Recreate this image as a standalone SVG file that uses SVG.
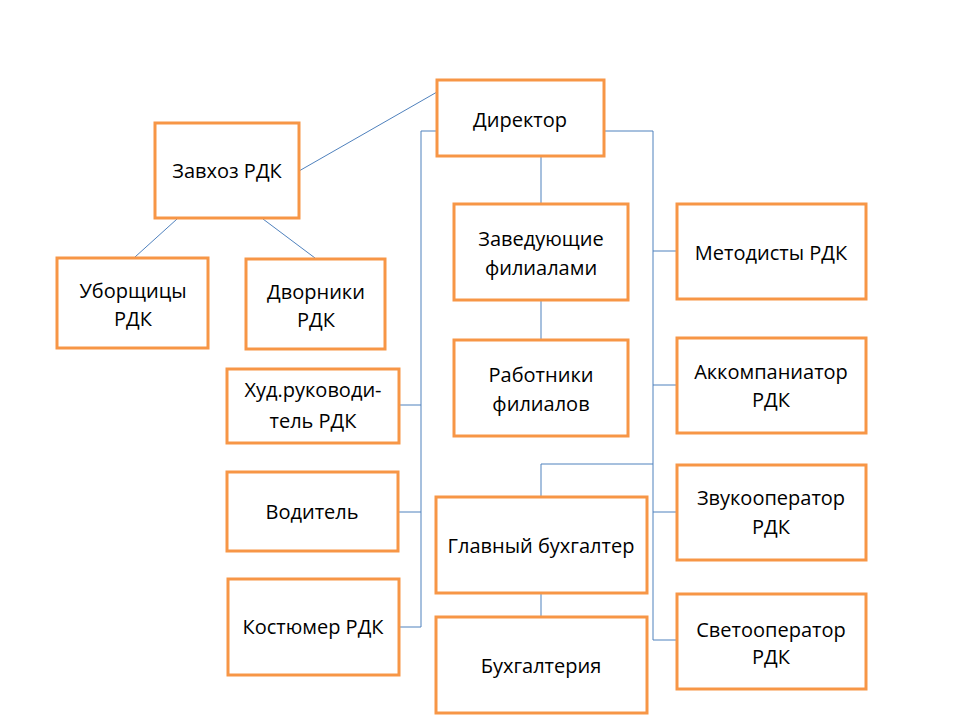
<svg xmlns="http://www.w3.org/2000/svg" width="960" height="720" viewBox="0 0 960 720">
<style>
.box{fill:#fff;stroke:#F79646;stroke-width:3}
.t{font-family:"Open Sans","Liberation Sans",sans-serif;font-size:20px;fill:#000;text-anchor:middle}
.c{fill:none;stroke:#4F81BD;stroke-width:1}
</style>
<rect width="960" height="720" fill="#fff"/>
<g id="connectors">
<line class="c" x1="299" y1="171" x2="437" y2="92"/>
<line class="c" x1="177" y1="219" x2="135" y2="257"/>
<line class="c" x1="263" y1="219" x2="315" y2="258"/>
<line class="c" x1="541" y1="156" x2="541" y2="204"/>
<line class="c" x1="541" y1="300" x2="541" y2="340"/>
<polyline class="c" points="437,131 421,131 421,627 399,627"/>
<line class="c" x1="399" y1="405" x2="421" y2="405"/>
<line class="c" x1="398" y1="512" x2="421" y2="512"/>
<polyline class="c" points="604,131 653,131 653,640 677,640"/>
<line class="c" x1="653" y1="251" x2="677" y2="251"/>
<line class="c" x1="653" y1="385" x2="677" y2="385"/>
<line class="c" x1="653" y1="512" x2="677" y2="512"/>
<polyline class="c" points="653,464 541,464 541,497"/>
<line class="c" x1="541" y1="593" x2="541" y2="617"/>
</g>
<g id="director"><rect class="box" x="437" y="80" width="167" height="76"/><text class="t" x="520" y="127">Директор</text></g>
<g id="zavhoz"><rect class="box" x="155" y="123" width="144" height="95"/><text class="t" x="227" y="178">Завхоз РДК</text></g>
<g id="uborshchitsy"><rect class="box" x="57" y="258" width="151" height="90"/><text class="t" x="133" y="298">Уборщицы</text><text class="t" x="133" y="326">РДК</text></g>
<g id="dvorniki"><rect class="box" x="246" y="259" width="139" height="90"/><text class="t" x="316" y="299">Дворники</text><text class="t" x="316" y="327">РДК</text></g>
<g id="zaveduyushchie"><rect class="box" x="454" y="204" width="174" height="96"/><text class="t" x="541" y="246">Заведующие</text><text class="t" x="541" y="275">филиалами</text></g>
<g id="rabotniki"><rect class="box" x="454" y="340" width="174" height="96"/><text class="t" x="541" y="382">Работники</text><text class="t" x="541" y="411">филиалов</text></g>
<g id="hud"><rect class="box" x="227" y="369" width="172" height="74"/><text class="t" x="313" y="397">Худ.руководи-</text><text class="t" x="313" y="428">тель РДК</text></g>
<g id="voditel"><rect class="box" x="227" y="472" width="171" height="79"/><text class="t" x="312" y="519">Водитель</text></g>
<g id="kostyumer"><rect class="box" x="228" y="579" width="171" height="96"/><text class="t" x="313" y="634">Костюмер РДК</text></g>
<g id="glavny"><rect class="box" x="436" y="497" width="211" height="96"/><text class="t" x="541" y="553">Главный бухгалтер</text></g>
<g id="bukhgalteriya"><rect class="box" x="436" y="617" width="211" height="96"/><text class="t" x="541" y="673">Бухгалтерия</text></g>
<g id="metodisty"><rect class="box" x="677" y="204" width="189" height="95"/><text class="t" x="771" y="260">Методисты РДК</text></g>
<g id="akkompaniator"><rect class="box" x="677" y="338" width="189" height="95"/><text class="t" x="771" y="379">Аккомпаниатор</text><text class="t" x="771" y="407">РДК</text></g>
<g id="zvukooperator"><rect class="box" x="677" y="465" width="189" height="95"/><text class="t" x="771" y="505">Звукооператор</text><text class="t" x="771" y="534">РДК</text></g>
<g id="svetooperator"><rect class="box" x="677" y="594" width="189" height="95"/><text class="t" x="771" y="637">Светооператор</text><text class="t" x="771" y="664">РДК</text></g>
</svg>
